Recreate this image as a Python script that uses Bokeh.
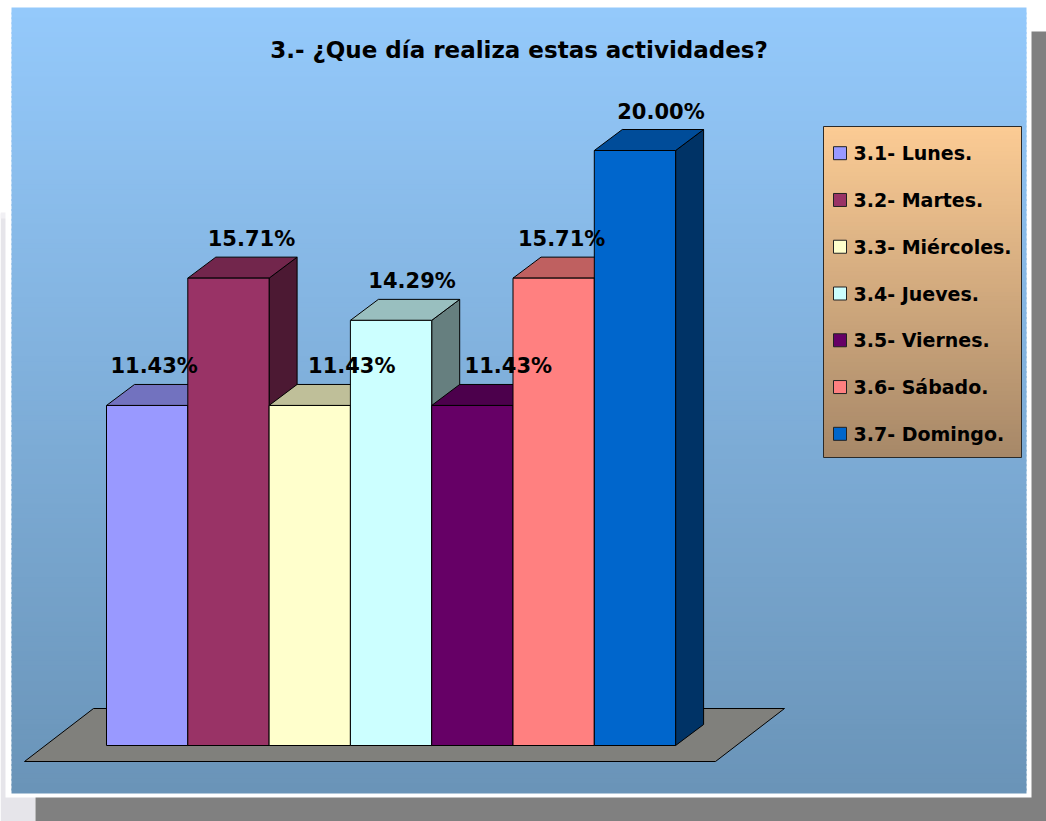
from bokeh.plotting import figure
from bokeh.models import Range1d, ColumnDataSource
from bokeh.core.properties import value
from bokeh.embed import file_html
from bokeh.resources import INLINE

# ---------------- data ----------------
title_text = "3.- ¿Que día realiza estas actividades?"
categories = ["3.1- Lunes.", "3.2- Martes.", "3.3- Miércoles.", "3.4- Jueves.",
              "3.5- Viernes.", "3.6- Sábado.", "3.7- Domingo."]
percentages = [11.43, 15.71, 11.43, 14.29, 11.43, 15.71, 20.00]
value_labels = ["11.43%", "15.71%", "11.43%", "14.29%", "11.43%", "15.71%", "20.00%"]
colors = ["#9999FF", "#993366", "#FFFFCC", "#CCFFFF", "#660066", "#FF8080", "#0066CC"]

# ---------------- layout (pixels) ----------------
W_PX, H_PX = 1046, 821
SLOT = 81.3        # px per category
X_ZERO = 106       # px of first bar's left edge
UNIT = 29.75       # px per percent
Y_ZERO = 745       # px of the bars' base
DEPTH_X, DEPTH_Y = 28, 21
label_dx = [7, 23, 42, 21, 36, 8, 26]   # horizontal nudges of value labels (px)
FONT = value("DejaVu Sans")


def dx(px):
    return (px - X_ZERO) / SLOT


def dy(py):
    return (Y_ZERO - py) / UNIT


def shade(hexcol, f):
    h = hexcol.lstrip("#")
    r, g, b = (int(h[k:k + 2], 16) for k in (0, 2, 4))
    return "#%02x%02x%02x" % (int(r * f), int(g * f), int(b * f))


def mix(c1, c2, t):
    return "#%02x%02x%02x" % tuple(int(round(a + (b - a) * t)) for a, b in zip(c1, c2))


p = figure(width=W_PX, height=H_PX,
           x_range=Range1d(dx(0), dx(W_PX)), y_range=Range1d(dy(H_PX), dy(0)),
           output_backend="svg", toolbar_location=None, min_border=0,
           x_axis_location=None, y_axis_location=None,
           outline_line_color=None, background_fill_color="white",
           border_fill_color="white")
p.grid.visible = False


def box(x0, y0, x1, y1, color, line=None):
    p.quad(left=[dx(x0)], right=[dx(x1)], top=[dy(y0)], bottom=[dy(y1)],
           fill_color=color, line_color=line)


def gradient(x0, y0, x1, y1, ctop, cbot, n=120):
    step = (y1 - y0) / n
    lefts, rights, tops, bots, cols = [], [], [], [], []
    for k in range(n):
        lefts.append(dx(x0)); rights.append(dx(x1))
        tops.append(dy(y0 + k * step))
        bots.append(dy(min(y1, y0 + (k + 1) * step + 2)))
        cols.append(mix(ctop, cbot, k / (n - 1)))
    p.quad(left=lefts, right=rights, top=tops, bottom=bots, fill_color=cols, line_color=None)


# page decorations: side strip, drop shadow, white frame, blue panel
box(0, 213, 35, 821, "#e6e5ea")
box(0, 212, 35, 218, "#f1f0f4")
box(35, 31, 1046, 821, "#808080")
box(5, 1, 1031, 797, "white")
gradient(11, 7, 1026, 793, (148, 201, 251), (106, 148, 184), n=160)

# floor
p.patch(x=[dx(24), dx(715), dx(784), dx(93)], y=[dy(761), dy(761), dy(708), dy(708)],
        fill_color="#80807c", line_color="black", line_width=1)

# 3-D bars
ddx, ddy = DEPTH_X / SLOT, DEPTH_Y / UNIT
side_xs, side_ys, top_xs, top_ys = [], [], [], []
for i, v in enumerate(percentages):
    side_xs.append([i + 1, i + 1 + ddx, i + 1 + ddx, i + 1])
    side_ys.append([0, ddy, v + ddy, v])
    top_xs.append([i, i + 1, i + 1 + ddx, i + ddx])
    top_ys.append([v, v, v + ddy, v + ddy])
p.patches(xs=side_xs, ys=side_ys, fill_color=[shade(c, 0.5) for c in colors],
          line_color="black", line_width=1)
p.patches(xs=top_xs, ys=top_ys, fill_color=[shade(c, 0.75) for c in colors],
          line_color="black", line_width=1)
idx = list(range(len(percentages)))
p.quad(left=idx, right=[i + 1 for i in idx], bottom=[0] * len(idx), top=percentages,
       fill_color=colors, line_color="black", line_width=1)

# value labels (centred vertically ~18 px above the back edge of each bar top)
lab_src = ColumnDataSource(dict(x=[i + 0.5 for i in idx], y=[v + ddy for v in percentages],
                                t=value_labels, xo=label_dx))
p.text(x="x", y="y", text="t", x_offset="xo", y_offset=-18, source=lab_src,
       text_align="center", text_baseline="middle", text_font=FONT,
       text_font_style="bold", text_font_size="21px", text_color="black")

# title
p.text(x=[dx(518.5)], y=[dy(49.5)], text=[title_text], text_align="center",
       text_baseline="middle", text_font=FONT, text_font_style="bold",
       text_font_size="23px", text_color="black")

# legend
LX0, LY0, LX1, LY1 = 823, 126, 1021, 457
gradient(LX0, LY0, LX1, LY1, (251, 203, 148), (167, 136, 104), n=80)
p.quad(left=[dx(LX0)], right=[dx(LX1)], top=[dy(LY0)], bottom=[dy(LY1)],
       fill_color=None, line_color="#2a2a2a", line_width=1)
STEP, FIRST, SW = 46.77, 152.7, 13
cys = [FIRST + STEP * k for k in idx]
p.quad(left=[dx(833)] * len(idx), right=[dx(833 + SW)] * len(idx),
       top=[dy(c - SW / 2) for c in cys], bottom=[dy(c + SW / 2) for c in cys],
       fill_color=colors, line_color="#222222", line_width=1)
p.text(x=[dx(853)] * len(idx), y=[dy(c) for c in cys], text=categories,
       text_align="left", text_baseline="middle", text_font=FONT,
       text_font_style="bold", text_font_size="19px", text_color="black")

open("out.html", "w").write(file_html(p, INLINE))
